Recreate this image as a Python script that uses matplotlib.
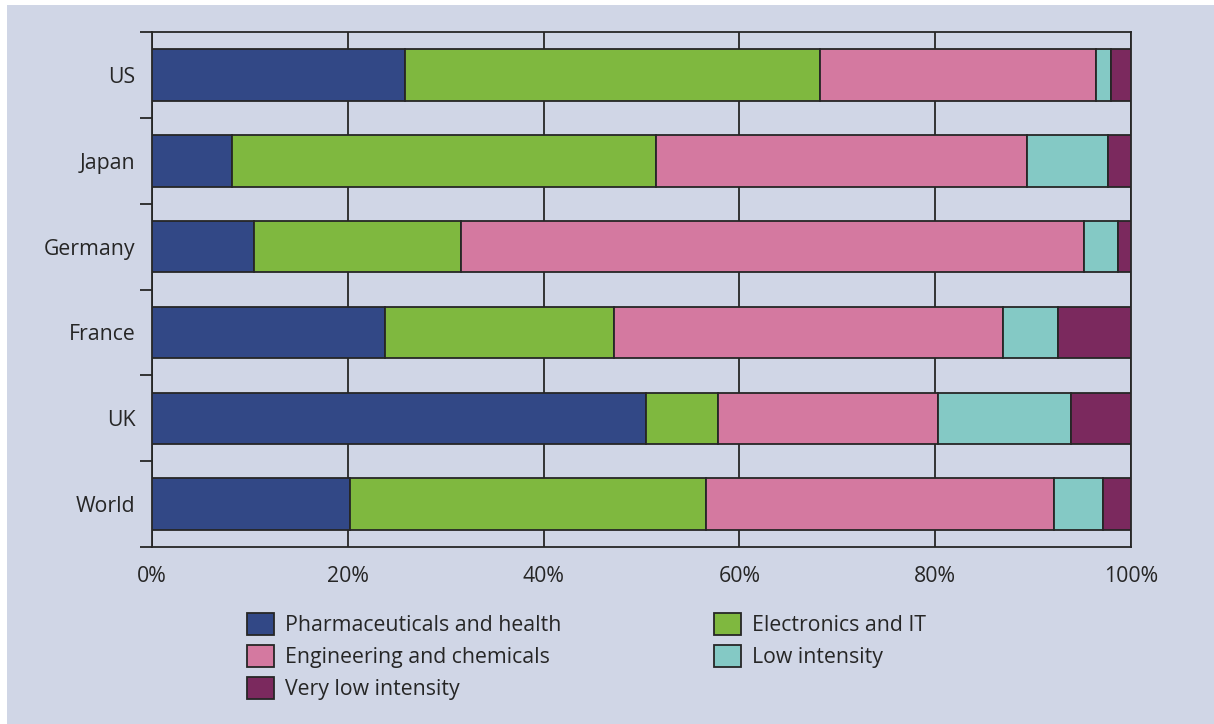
import numpy as np
import matplotlib.pyplot as plt
from matplotlib.patches import Rectangle

countries = ['US', 'Japan', 'Germany', 'France', 'UK', 'World']
pharma = [25.8, 8.2, 10.4, 23.8, 50.5, 20.2]
electronics = [42.4, 43.3, 21.2, 23.4, 7.3, 36.4]
engineering = [28.2, 37.9, 63.6, 39.7, 22.5, 35.5]
low = [1.6, 8.2, 3.5, 5.6, 13.6, 5.0]
very_low = [2.0, 2.4, 1.3, 7.5, 6.1, 2.9]

series = [
    ('Pharmaceuticals and health', pharma, '#324886'),
    ('Electronics and IT', electronics, '#7fb83f'),
    ('Engineering and chemicals', engineering, '#d479a0'),
    ('Low intensity', low, '#84c9c5'),
    ('Very low intensity', very_low, '#7b295e'),
]

bg = '#d0d6e6'
ink = '#262626'
fs = 15.3
plt.rcParams['font.family'] = ['Open Sans', 'DejaVu Sans']

fig = plt.figure(figsize=(12.14, 7.24), dpi=100, facecolor='white')
fig.patches.append(Rectangle((7 / 1214, 0), 1, 1 - 5 / 724, transform=fig.transFigure,
                             facecolor=bg, edgecolor='none', zorder=-10))
ax = fig.add_axes([152 / 1214, 1 - 547 / 724, (1131 - 152) / 1214, (547 - 32) / 724])
ax.set_facecolor(bg)

y = np.arange(len(countries))
left = np.zeros(len(countries))
bars = {}
for name, vals, col in series:
    bars[name] = ax.barh(y, vals, left=left, height=0.6, color=col,
                         edgecolor=ink, linewidth=1.3, zorder=3, label=name)
    left += np.array(vals)

ax.set_xlim(0, 100)
ax.set_ylim(len(countries) - 0.5, -0.5)

ax.set_xticks(np.arange(0, 101, 20))
ax.set_xticklabels([f'{v}%' for v in range(0, 101, 20)])
ax.set_xticks([0], minor=True)
ax.tick_params(axis='x', which='major', length=0, pad=14, labelsize=fs, labelcolor=ink)
ax.tick_params(axis='x', which='minor', length=6, width=1.3, color=ink)
ax.grid(axis='x', color=ink, linewidth=1.3, zorder=1)

ax.set_yticks(y)
ax.set_yticklabels(countries)
ax.set_yticks(np.arange(-0.5, len(countries)), minor=True)
ax.tick_params(axis='y', which='major', length=0, pad=12, labelsize=fs, labelcolor=ink)
ax.tick_params(axis='y', which='minor', length=9, width=1.3, color=ink)

for s in ax.spines.values():
    s.set_color(ink)
    s.set_linewidth(1.3)

order = ['Pharmaceuticals and health', 'Engineering and chemicals', 'Very low intensity',
         'Electronics and IT', 'Low intensity']
leg = fig.legend([bars[n] for n in order], order, ncol=2, loc='upper left',
                 bbox_to_anchor=(228 / 1214, 1 - 594 / 724), frameon=False,
                 fontsize=fs, handlelength=1.27, handleheight=1.22,
                 handletextpad=0.5, labelspacing=0.4, columnspacing=7.2,
                 labelcolor=ink)
for h in leg.legend_handles:
    h.set_edgecolor(ink)
    h.set_linewidth(1.3)

fig.savefig('out.png', dpi=100, facecolor=fig.get_facecolor())
